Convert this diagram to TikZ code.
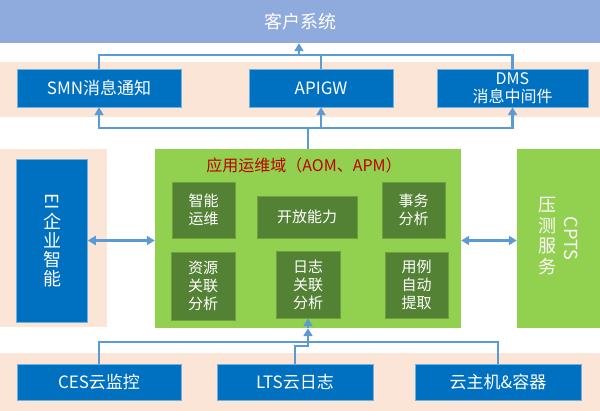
\documentclass[tikz,border=0pt]{standalone}
\usepackage{fontspec}
\setmainfont{Noto Sans CJK SC}
\usepackage{tikz}
\usetikzlibrary{arrows.meta,calc,positioning}
\definecolor{topblue}{RGB}{143,170,220}
\definecolor{peach}{RGB}{251,229,214}
\definecolor{boxblue}{RGB}{0,112,192}
\definecolor{aomgreen}{RGB}{146,208,80}
\definecolor{darkgreen}{RGB}{84,130,53}
\definecolor{linkblue}{RGB}{91,155,213}
\definecolor{titlered}{RGB}{192,0,0}

\begin{document}
\begin{tikzpicture}[x=1pt,y=-1pt,
  svcbox/.style={fill=boxblue,draw=boxblue!55!white,line width=0.5pt,text=white,
    inner sep=0pt,align=center,font=\fontsize{17}{19}\selectfont},
  funcbox/.style={fill=darkgreen,draw=darkgreen!60!aomgreen,line width=0.5pt,text=white,
    inner sep=0pt,align=center,font=\fontsize{15}{18}\selectfont},
  link/.style={draw=linkblue,line width=2.4pt},
  tip/.style={-{Triangle[width=9pt,length=8pt]}},
  twoway/.style={{Triangle[width=9pt,length=8pt]}-{Triangle[width=9pt,length=8pt]}}]
  \useasboundingbox (0,0) rectangle (600,411);
  % background bands
  \fill[peach] (0,62) rectangle (600,117);
  \fill[peach] (0,149) rectangle (107,327);
  \fill[peach] (0,353) rectangle (600,411);
  \node[fill=topblue,text=white,minimum width=600pt,minimum height=43pt,inner sep=0pt,
    font=\fontsize{18}{20}\selectfont] (kehu) at (300,21.5) {客户系统};
  % service row
  \node[svcbox,minimum width=164pt,minimum height=38pt] (smn) at (99,88) {SMN消息通知};
  \node[svcbox,minimum width=144pt,minimum height=38pt] (apigw) at (321,88) {APIGW};
  \node[svcbox,minimum width=151pt,minimum height=38pt,font=\fontsize{16}{18}\selectfont]
    (dms) at (512.5,88) {DMS\\消息中间件};
  % middle
  \node[svcbox,minimum width=71pt,minimum height=163pt,font=\fontsize{18}{19}\selectfont]
    (ei) at (52,240.5) {\raisebox{\depth}{\rotatebox{-90}{EI}}\\企\\业\\智\\能};
  \node[fill=aomgreen,minimum width=306pt,minimum height=179pt,inner sep=0pt] (aom) at (308,238.5) {};
  \node[text=titlered,font=\fontsize{16}{18}\selectfont] (aomtitle) at (304,165) {应用运维域（AOM、APM）};
  \node[funcbox,minimum width=63pt,minimum height=56pt] (zn) at (203.5,210) {智能\\运维};
  \node[funcbox,minimum width=100pt,minimum height=42pt] (kf) at (307,217) {开放能力};
  \node[funcbox,minimum width=63pt,minimum height=56pt] (sw) at (413.5,210) {事务\\分析};
  \node[funcbox,minimum width=64pt,minimum height=68pt] (zy) at (203,286) {资源\\关联\\分析};
  \node[funcbox,minimum width=64pt,minimum height=67pt] (rz) at (308,284.5) {日志\\关联\\分析};
  \node[funcbox,minimum width=63pt,minimum height=66pt] (yl) at (416.5,285) {用例\\自动\\提取};
  \node[fill=aomgreen,text=white,minimum width=83pt,minimum height=179pt,inner sep=0pt,
    font=\fontsize{18}{19}\selectfont] (cpts) at (558.5,238.5)
    {$\vcenter{\hbox{\begin{tabular}{@{}c@{}}压\\测\\服\\务\end{tabular}}}$\hspace{8pt}$\vcenter{\hbox{\rotatebox{-90}{CPTS}}}$};
  % source row
  \node[svcbox,minimum width=164pt,minimum height=36pt] (ces) at (99,382) {CES云监控};
  \node[svcbox,minimum width=156pt,minimum height=36pt] (lts) at (295,382) {LTS云日志};
  \node[svcbox,minimum width=166pt,minimum height=36pt] (vm) at (498,382) {云主机\&容器};
  % connectors
  \coordinate (up) at (299,55);
  \coordinate (mid) at (308,128);
  \coordinate (low) at (308,342);
  \coordinate (jog) at (308,346);
  \draw[link] (smn.north) |- (up) -| (dms.north);
  \draw[link] (apigw.north) -- (apigw.north |- up);
  \draw[link,tip] (up) -- (kehu.south -| up);
  \draw[link] (aom.north) -- (mid);
  \draw[link,tip] (mid) -| (smn.south);
  \draw[link,tip] (mid) -| (dms.south);
  \draw[link,tip] (mid -| apigw.south) -- (apigw.south);
  \draw[link,twoway] (ei.east) -- (ei.east -| aom.west);
  \draw[link,twoway] (aom.east |- ei.east) -- (cpts.west |- ei.east);
  \draw[link] (ces.north) |- (low) -| (vm.north);
  \draw[link] (lts.north) |- (jog) -- (low);
  \draw[link,tip] (low) -- (aom.south);
  \draw[link,tip] (aom.south) -- (rz.south);
\end{tikzpicture}
\end{document}
